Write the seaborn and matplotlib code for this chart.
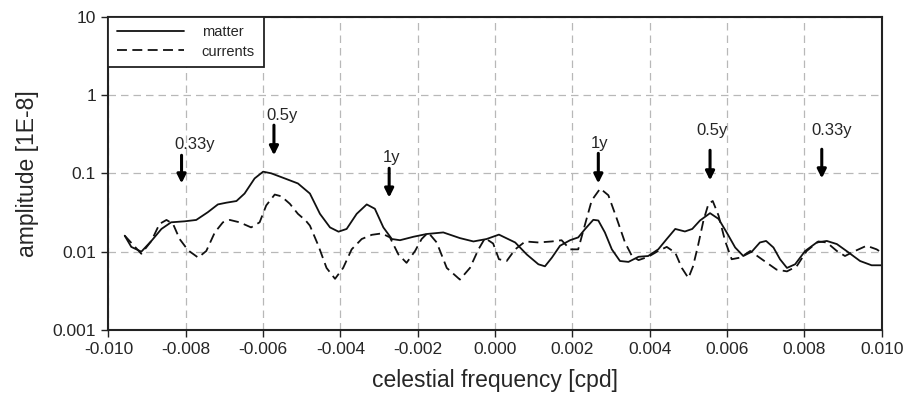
import matplotlib
matplotlib.use("Agg")
import matplotlib.pyplot as plt
from matplotlib.ticker import NullLocator
import seaborn as sns

# values
matter_x = [-0.00958, -0.00941, -0.00915, -0.00889, -0.00863, -0.00838, -0.00803, -0.00773,
            -0.00743, -0.00717, -0.00695, -0.00669, -0.00648, -0.00622, -0.00600, -0.00579,
            -0.00544, -0.00510, -0.00479, -0.00453, -0.00427, -0.00405, -0.00384, -0.00358,
            -0.00332, -0.00311, -0.00289, -0.00267, -0.00246, -0.00211, -0.00177, -0.00134,
            -0.00091, -0.00056, -0.00022, 0.00010, 0.00052, 0.00082, 0.00112, 0.00129,
            0.00147, 0.00168, 0.00194, 0.00215, 0.00233, 0.00254, 0.00267, 0.00284,
            0.00302, 0.00323, 0.00345, 0.00371, 0.00396, 0.00422, 0.00444, 0.00466,
            0.00491, 0.00510, 0.00530, 0.00556, 0.00578, 0.00599, 0.00621, 0.00642,
            0.00664, 0.00685, 0.00701, 0.00720, 0.00737, 0.00755, 0.00776, 0.00802,
            0.00832, 0.00858, 0.00884, 0.00909, 0.00944, 0.00974, 0.01000]
matter_y = [0.0160, 0.0115, 0.0100, 0.0137, 0.0195, 0.0237, 0.0244, 0.0254,
            0.0319, 0.0401, 0.0422, 0.0443, 0.0552, 0.0861, 0.1050, 0.1000,
            0.0861, 0.0743, 0.0552, 0.0304, 0.0204, 0.0180, 0.0195, 0.0304,
            0.0401, 0.0353, 0.0204, 0.0145, 0.0140, 0.0155, 0.0168, 0.0176,
            0.0149, 0.0135, 0.0145, 0.0165, 0.0131, 0.0092, 0.0069, 0.0065,
            0.0084, 0.0119, 0.0140, 0.0152, 0.0195, 0.0255, 0.0250, 0.0176,
            0.0107, 0.0076, 0.0074, 0.0086, 0.0088, 0.0107, 0.0145, 0.0195,
            0.0181, 0.0195, 0.0250, 0.0310, 0.0262, 0.0176, 0.0113, 0.0088,
            0.0100, 0.0131, 0.0137, 0.0113, 0.0080, 0.0062, 0.0069, 0.0102,
            0.0131, 0.0137, 0.0125, 0.0102, 0.0076, 0.0067, 0.0067]

currents_x = [-0.00958, -0.00915, -0.00889, -0.00868, -0.00850, -0.00833, -0.00816, -0.00794,
              -0.00768, -0.00747, -0.00725, -0.00704, -0.00686, -0.00661, -0.00631, -0.00609,
              -0.00592, -0.00570, -0.00553, -0.00531, -0.00510, -0.00490, -0.00479, -0.00457,
              -0.00436, -0.00414, -0.00393, -0.00371, -0.00345, -0.00319, -0.00293, -0.00272,
              -0.00250, -0.00229, -0.00207, -0.00190, -0.00173, -0.00151, -0.00125, -0.00091,
              -0.00065, -0.00043, -0.00026, -0.00005, 0.00010, 0.00030, 0.00052, 0.00078,
              0.00112, 0.00147, 0.00172, 0.00194, 0.00215, 0.00233, 0.00250, 0.00272,
              0.00293, 0.00315, 0.00336, 0.00354, 0.00371, 0.00396, 0.00422, 0.00444,
              0.00466, 0.00483, 0.00500, 0.00512, 0.00525, 0.00539, 0.00552, 0.00563,
              0.00578, 0.00595, 0.00612, 0.00634, 0.00660, 0.00690, 0.00728, 0.00755,
              0.00780, 0.00806, 0.00836, 0.00858, 0.00884, 0.00905, 0.00931, 0.00961,
              0.00987, 0.01000]
currents_y = [0.0160, 0.0094, 0.0137, 0.0226, 0.0254, 0.0226, 0.0145, 0.0104,
              0.0084, 0.0102, 0.0176, 0.0237, 0.0254, 0.0237, 0.0204, 0.0237,
              0.0389, 0.0536, 0.0509, 0.0409, 0.0304, 0.0250, 0.0215, 0.0119,
              0.0062, 0.0045, 0.0062, 0.0107, 0.0145, 0.0164, 0.0171, 0.0152,
              0.0092, 0.0072, 0.0102, 0.0145, 0.0176, 0.0131, 0.0062, 0.0044,
              0.0062, 0.0107, 0.0149, 0.0127, 0.0080, 0.0076, 0.0107, 0.0135,
              0.0131, 0.0135, 0.0140, 0.0107, 0.0107, 0.0226, 0.0452, 0.0640,
              0.0525, 0.0262, 0.0131, 0.0088, 0.0078, 0.0086, 0.0102, 0.0115,
              0.0097, 0.0062, 0.0046, 0.0065, 0.0120, 0.0250, 0.0409, 0.0443,
              0.0289, 0.0137, 0.0080, 0.0084, 0.0102, 0.0080, 0.0059, 0.0056,
              0.0065, 0.0102, 0.0135, 0.0131, 0.0102, 0.0088, 0.0102, 0.0119,
              0.0107, 0.0097]

arrow_labels = ["0.33y", "0.5y", "1y", "1y", "0.5y", "0.33y"]
arrow_x = [-0.00811, -0.00572, -0.00274, 0.00267, 0.00556, 0.00845]
arrow_top = [0.170, 0.412, 0.116, 0.180, 0.197, 0.203]
arrow_tip = [0.0744, 0.170, 0.049, 0.0744, 0.0813, 0.0862]
label_x = [-0.00776, -0.00551, -0.00269, 0.00271, 0.00560, 0.00871]
label_y = [0.235, 0.551, 0.160, 0.241, 0.354, 0.354]

x_ticks = [-0.010, -0.008, -0.006, -0.004, -0.002, 0.000, 0.002, 0.004, 0.006, 0.008, 0.010]
x_tick_labels = ["-0.010", "-0.008", "-0.006", "-0.004", "-0.002", "0.000",
                 "0.002", "0.004", "0.006", "0.008", "0.010"]
y_ticks = [0.001, 0.01, 0.1, 1, 10]
y_tick_labels = ["0.001", "0.01", "0.1", "1", "10"]

sns.set_style("white")
plt.rcParams["font.family"] = ["Liberation Sans", "DejaVu Sans"]

fig = plt.figure(figsize=(9.07, 4.09), dpi=100)
ax = fig.add_axes([0.1196, 0.1932, 0.8525, 0.766])

sns.lineplot(x=matter_x, y=matter_y, ax=ax, color="#111111", lw=1.3,
             sort=False, estimator=None, label="matter")
sns.lineplot(x=currents_x, y=currents_y, ax=ax, color="#111111", lw=1.3,
             linestyle=(0, (5.5, 3)), sort=False, estimator=None, label="currents")

ax.set_yscale("log")
ax.set_xlim(-0.010, 0.010)
ax.set_ylim(0.001, 10)
ax.set_xticks(x_ticks, x_tick_labels)
ax.set_yticks(y_ticks, y_tick_labels)
ax.yaxis.set_minor_locator(NullLocator())
ax.tick_params(axis="both", direction="out", length=5, width=1, color="#222222",
               labelsize=12.5, pad=4, bottom=True, left=True)

ax.grid(True, color="#b8b8b8", linestyle=(0, (6, 4)), lw=0.9)
for s in ax.spines.values():
    s.set_color("#222222")
    s.set_linewidth(1.5)

ax.set_xlabel("celestial frequency [cpd]", fontsize=16.5, labelpad=8)
ax.set_ylabel("amplitude [1E-8]", fontsize=16.5, labelpad=10)

for lab, x, top, tip, lx, ly in zip(arrow_labels, arrow_x, arrow_top, arrow_tip, label_x, label_y):
    ax.annotate("", xy=(x, tip), xytext=(x, top),
                arrowprops=dict(arrowstyle="-|>", color="black", lw=2.2,
                                mutation_scale=13, shrinkA=0, shrinkB=0))
    ax.text(lx, ly, lab, ha="center", va="center", fontsize=12)

leg = ax.legend(loc="upper left", frameon=True, fancybox=False, edgecolor="#222222",
                framealpha=1, borderaxespad=0, fontsize=10.5, handlelength=4.6,
                handletextpad=1.2, borderpad=0.6, labelspacing=0.35)
leg.get_frame().set_linewidth(1.3)

fig.savefig("out.png", dpi=100)
